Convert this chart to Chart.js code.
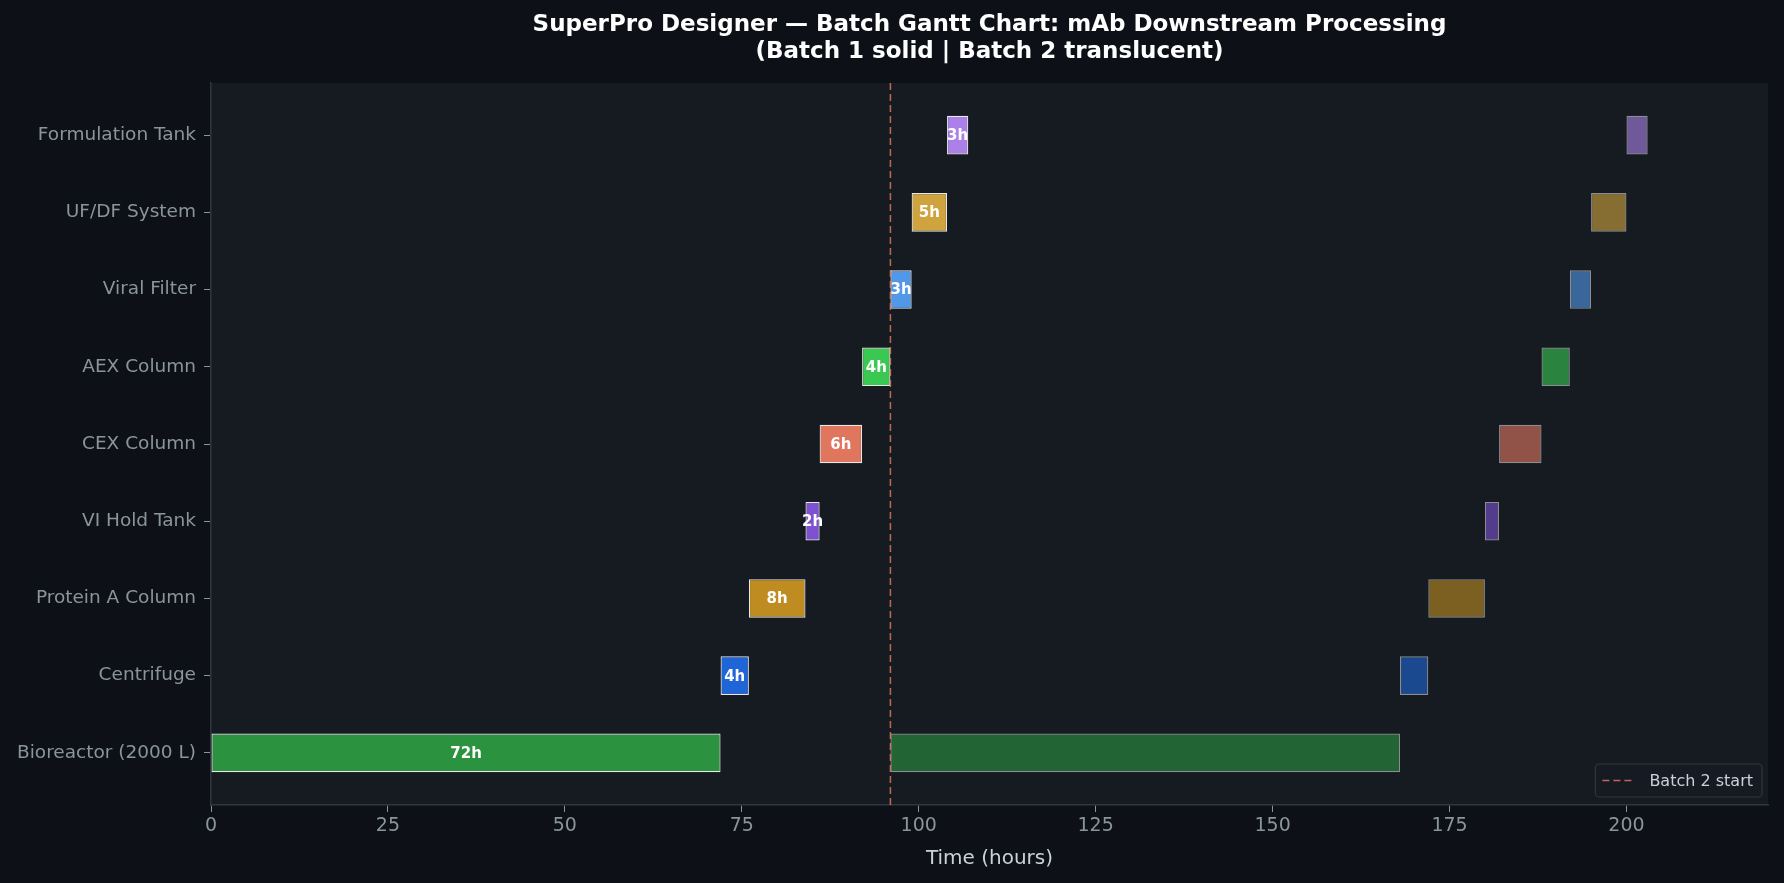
<!DOCTYPE html>
<html>
<head>
<meta charset="utf-8">
<title>Batch Gantt Chart</title>
<script src="https://cdn.jsdelivr.net/npm/chart.js@4.4.1/dist/chart.umd.min.js"></script>
<style>
    html, body { margin: 0; padding: 0; background: #0d1117; }
    canvas { display: block; }
</style>
</head>
<body>
<canvas id="ganttChart" width="1784" height="883"></canvas>
<script>
// Equipment rows, bottom to top
const equipment = ['Bioreactor (2000 L)', 'Centrifuge', 'Protein A Column', 'VI Hold Tank', 'CEX Column', 'AEX Column', 'Viral Filter', 'UF/DF System', 'Formulation Tank'];
const batch1Start = [0, 72, 76, 84, 86, 92, 96, 99, 104];
const batch2Start = [96, 168, 172, 180, 182, 188, 192, 195, 200];
const durations = [72, 4, 8, 2, 6, 4, 3, 5, 3];
const batch2Marker = 96;
const xTickValues = [0, 25, 50, 75, 100, 125, 150, 175, 200];
const colors = ['#2ea043', '#1f6feb', '#d29922', '#8957e5', '#f78166', '#3ddb57', '#58a6ff', '#e3b341', '#bc8cff'];

const yMin = -0.675;
const yMax = 8.675;
const fontFamily = '"DejaVu Sans", sans-serif';

function withAlpha(hex, a) {
    const r = parseInt(hex.slice(1, 3), 16);
    const g = parseInt(hex.slice(3, 5), 16);
    const b = parseInt(hex.slice(5, 7), 16);
    return `rgba(${r},${g},${b},${a})`;
}

function batchData(starts) {
    return equipment.map((_, i) => ({ x: [starts[i], starts[i] + durations[i]], y: i }));
}

// Plot background
const plotBackground = {
    id: 'plotBackground',
    beforeDraw(chart) {
        const { ctx, chartArea } = chart;
        ctx.save();
        ctx.fillStyle = '#161b22';
        ctx.fillRect(chartArea.left, chartArea.top, chartArea.right - chartArea.left, chartArea.bottom - chartArea.top);
        ctx.restore();
    }
};

// Duration labels on batch 1 bars
const barLabels = {
    id: 'barLabels',
    afterDatasetsDraw(chart) {
        const ctx = chart.ctx;
        const meta = chart.getDatasetMeta(0);
        ctx.save();
        ctx.font = `bold 15px ${fontFamily}`;
        ctx.fillStyle = '#ffffff';
        ctx.textAlign = 'center';
        ctx.textBaseline = 'middle';
        meta.data.forEach((bar, i) => {
            const { x, y, base } = bar.getProps(['x', 'y', 'base'], true);
            ctx.fillText(durations[i] + 'h', (x + base) / 2, y + 1);
        });
        ctx.restore();
    }
};

// Title centered over the plot area
const plotTitle = {
    id: 'plotTitle',
    afterDraw(chart) {
        const { ctx, chartArea } = chart;
        const cx = (chartArea.left + chartArea.right) / 2;
        ctx.save();
        ctx.font = `bold 23px ${fontFamily}`;
        ctx.fillStyle = '#ffffff';
        ctx.textAlign = 'center';
        ctx.textBaseline = 'middle';
        ctx.fillText('SuperPro Designer \u2014 Batch Gantt Chart: mAb Downstream Processing', cx, 25);
        ctx.fillText('(Batch 1 solid | Batch 2 translucent)', cx, 52);
        ctx.restore();
    }
};

// Legend box in the lower right corner
const markerLegend = {
    id: 'markerLegend',
    afterDraw(chart) {
        const { ctx, chartArea } = chart;
        const ds = chart.data.datasets[2];
        ctx.save();
        ctx.font = `16px ${fontFamily}`;
        const textW = ctx.measureText(ds.label).width;
        const w = 7 + 33 + 14 + textW + 9;
        const h = 33;
        const right = chartArea.right - 6;
        const bottom = chartArea.bottom - 8;
        const left = right - w;
        const top = bottom - h;
        ctx.fillStyle = 'rgba(22,27,34,0.9)';
        ctx.strokeStyle = '#30363d';
        ctx.lineWidth = 1.2;
        ctx.beginPath();
        ctx.roundRect(left, top, w, h, 4);
        ctx.fill();
        ctx.stroke();
        const cy = top + h / 2;
        ctx.strokeStyle = ds.borderColor;
        ctx.lineWidth = ds.borderWidth;
        ctx.setLineDash(ds.borderDash);
        ctx.beginPath();
        ctx.moveTo(left + 7, cy);
        ctx.lineTo(left + 40, cy);
        ctx.stroke();
        ctx.setLineDash([]);
        ctx.fillStyle = '#c9d1d9';
        ctx.textAlign = 'left';
        ctx.textBaseline = 'middle';
        ctx.fillText(ds.label, left + 54, cy + 1);
        ctx.restore();
    }
};

Chart.defaults.font.family = fontFamily;

const ctxGantt = document.getElementById('ganttChart').getContext('2d');
new Chart(ctxGantt, {
    type: 'bar',
    data: {
        datasets: [
            {
                label: 'Batch 1',
                data: batchData(batch1Start),
                backgroundColor: colors.map(c => withAlpha(c, 0.9)),
                borderColor: 'rgba(255,255,255,0.9)',
                borderWidth: 1.2,
                borderSkipped: false,
                grouped: false,
                categoryPercentage: 1,
                barPercentage: 0.5,
                order: 1
            },
            {
                label: 'Batch 2',
                data: batchData(batch2Start),
                backgroundColor: colors.map(c => withAlpha(c, 0.55)),
                borderColor: 'rgba(255,255,255,0.5)',
                borderWidth: 1.2,
                borderSkipped: false,
                grouped: false,
                categoryPercentage: 1,
                barPercentage: 0.5,
                order: 2
            },
            {
                type: 'line',
                label: 'Batch 2 start',
                data: [{ x: batch2Marker, y: yMin }, { x: batch2Marker, y: yMax }],
                borderColor: 'rgba(247,129,102,0.75)',
                borderWidth: 1.5,
                borderDash: [7, 4],
                pointRadius: 0,
                fill: false,
                order: 0
            }
        ]
    },
    options: {
        indexAxis: 'y',
        responsive: false,
        animation: false,
        layout: { padding: { top: 83, right: 16, left: 0, bottom: 0 } },
        plugins: {
            legend: { display: false },
            tooltip: { enabled: false },
            title: { display: false }
        },
        scales: {
            x: {
                type: 'linear',
                position: 'bottom',
                min: 0,
                max: 220,
                offset: false,
                afterBuildTicks: (axis) => { axis.ticks = xTickValues.map(v => ({ value: v })); },
                afterFit: (axis) => { axis.height = 78; },
                ticks: { color: '#8b949e', font: { size: 19 }, padding: 3, includeBounds: false },
                grid: { drawOnChartArea: false, drawTicks: true, offset: false, tickLength: 7, color: '#8b949e', tickWidth: 1 },
                border: { display: true, color: '#30363d', width: 1.5 },
                title: { display: true, text: 'Time (hours)', color: '#c9d1d9', font: { size: 20 }, padding: { top: 0, bottom: 12 } }
            },
            y: {
                type: 'linear',
                position: 'left',
                min: yMin,
                max: yMax,
                offset: false,
                afterBuildTicks: (axis) => { axis.ticks = equipment.map((_, i) => ({ value: i })); },
                afterFit: (axis) => { axis.width = 211; },
                ticks: { color: '#8b949e', font: { size: 18.5 }, padding: 8, callback: (v) => equipment[v] },
                grid: { drawOnChartArea: false, drawTicks: true, offset: false, tickLength: 7, color: '#8b949e', tickWidth: 1 },
                border: { display: true, color: '#30363d', width: 1.5 }
            }
        }
    },
    plugins: [plotBackground, barLabels, plotTitle, markerLegend]
});
</script>
</body>
</html>
